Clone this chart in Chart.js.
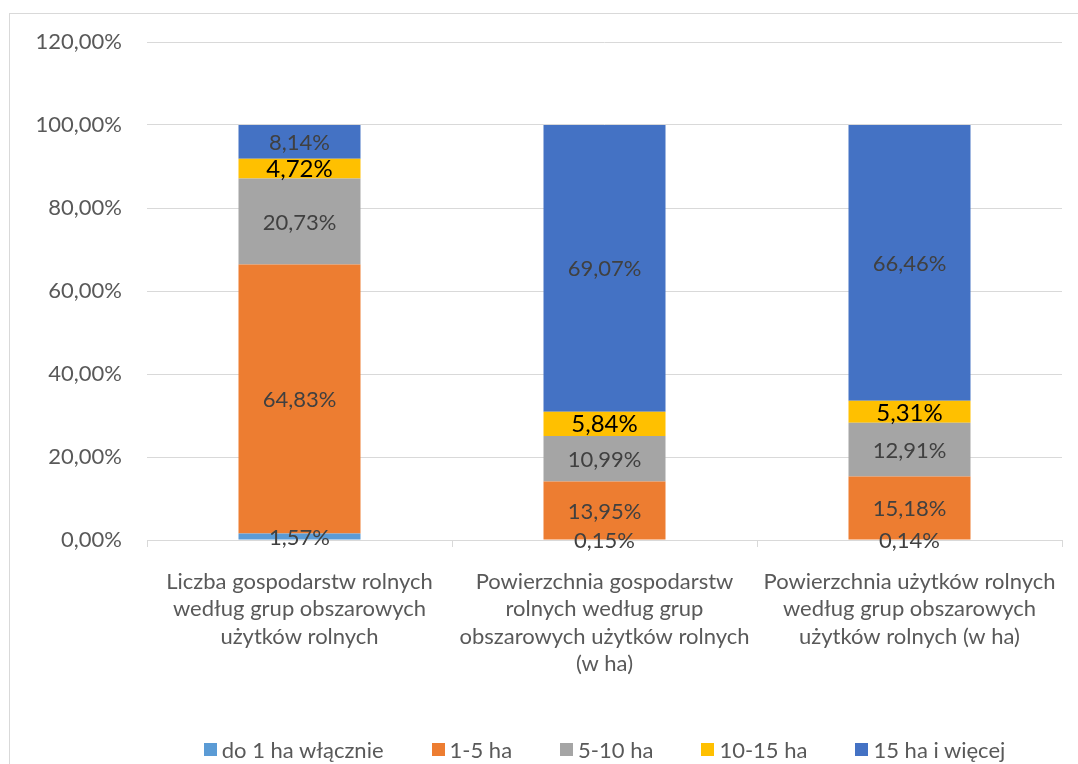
<!DOCTYPE html>
<html lang="pl">
<head>
<meta charset="utf-8">
<title>Gospodarstwa rolne według grup obszarowych</title>
<script src="https://cdn.jsdelivr.net/npm/chart.js@4/dist/chart.umd.min.js"></script>
<style>
    html, body {
        margin: 0;
        padding: 0;
        background: #fff;
        overflow: hidden;
        width: 1078px;
        height: 764px;
    }
    .chart-frame {
        position: absolute;
        left: 9px;
        top: 13px;
        width: 1200px;
        height: 800px;
        border: 1px solid #d9d9d9;
        box-sizing: border-box;
    }
    .chart-wrap {
        position: absolute;
        left: 0;
        top: 0;
        width: 1080px;
        height: 750px;
    }
    .legend {
        position: absolute;
        left: 137px;
        width: 915px;
        top: 722px;
        display: flex;
        justify-content: center;
        gap: 48px;
        font-family: Lato, sans-serif;
        font-size: 22px;
        color: #595959;
    }
    .legend-item {
        display: flex;
        align-items: center;
        gap: 5px;
        white-space: nowrap;
    }
    .legend-box {
        width: 13px;
        height: 13px;
    }
</style>
</head>
<body>
<div class="chart-frame">
    <div class="chart-wrap"><canvas id="chart"></canvas></div>
    <div class="legend" id="legend"></div>
</div>
<script>
// ── Data ──────────────────────────────────────────────────────────────────────
const categories = [
    ["Liczba gospodarstw rolnych", "według grup obszarowych", "użytków rolnych"],
    ["Powierzchnia gospodarstw", "rolnych według grup", "obszarowych użytków rolnych", "(w ha)"],
    ["Powierzchnia użytków rolnych", "według grup obszarowych", "użytków rolnych (w ha)"],
];
const seriesNames = ["do 1 ha włącznie", "1-5 ha", "5-10 ha", "10-15 ha", "15 ha i więcej"];
const upTo1 = [1.57, 0.15, 0.14];
const from1to5 = [64.83, 13.95, 15.18];
const from5to10 = [20.73, 10.99, 12.91];
const from10to15 = [4.72, 5.84, 5.31];
const from15 = [8.14, 69.07, 66.46];
const yTicks = [0, 20, 40, 60, 80, 100, 120];

const seriesValues = [upTo1, from1to5, from5to10, from10to15, from15];
const seriesColors = ["#5b9bd5", "#ed7d31", "#a5a5a5", "#ffc000", "#4472c4"];

const FONT = "Lato, sans-serif";
const fmtPct = (v) => v.toFixed(2).replace(".", ",") + "%";

// ── Segment labels ────────────────────────────────────────────────────────────
const segmentLabels = {
    id: "segmentLabels",
    afterDatasetsDraw(chart) {
        const { ctx } = chart;
        ctx.save();
        ctx.textAlign = "center";
        ctx.textBaseline = "middle";
        chart.data.datasets.forEach((ds, i) => {
            const isYellow = i === 3;
            ctx.font = `${isYellow ? 24 : 22}px ${FONT}`;
            ctx.fillStyle = isYellow ? "#000000" : "#404040";
            chart.getDatasetMeta(i).data.forEach((bar, j) => {
                const { x, y } = bar.getCenterPoint();
                ctx.fillText(fmtPct(ds.data[j]), x, y + 1);
            });
        });
        ctx.restore();
    },
};

// ── Chart ─────────────────────────────────────────────────────────────────────
new Chart(document.getElementById("chart").getContext("2d"), {
    type: "bar",
    data: {
        labels: categories,
        datasets: seriesNames.map((name, i) => ({
            label: name,
            data: seriesValues[i],
            backgroundColor: seriesColors[i],
            borderWidth: 0,
            barPercentage: 0.4,
            categoryPercentage: 1.0,
        })),
    },
    options: {
        responsive: true,
        maintainAspectRatio: false,
        animation: false,
        layout: { padding: { top: 28, right: 28, bottom: 0, left: 0 } },
        plugins: {
            legend: { display: false },
            tooltip: { enabled: false },
        },
        scales: {
            x: {
                stacked: true,
                afterFit: (scale) => { scale.height = 224; },
                grid: {
                    offset: true,
                    drawOnChartArea: false,
                    drawTicks: true,
                    tickLength: 7,
                    color: "#d9d9d9",
                },
                border: { display: true, color: "#d9d9d9", width: 1 },
                ticks: {
                    padding: 21,
                    color: "#595959",
                    font: { family: FONT, size: 22, lineHeight: 1.25 },
                    maxRotation: 0,
                    autoSkip: false,
                },
            },
            y: {
                stacked: true,
                min: 0,
                max: 120,
                afterFit: (scale) => {
                    scale.width = 137;
                    scale.paddingTop = 0;
                    scale.paddingBottom = 0;
                },
                afterBuildTicks: (scale) => {
                    scale.ticks = yTicks.map((v) => ({ value: v }));
                },
                grid: {
                    color: "#d9d9d9",
                    lineWidth: 1,
                    drawTicks: false,
                },
                border: { display: false },
                ticks: {
                    padding: 25,
                    color: "#595959",
                    font: { family: FONT, size: 22 },
                    callback: (v) => fmtPct(v),
                },
            },
        },
    },
    plugins: [segmentLabels],
});

// ── Legend ────────────────────────────────────────────────────────────────────
const legendEl = document.getElementById("legend");
seriesNames.forEach((name, i) => {
    const item = document.createElement("div");
    item.className = "legend-item";
    const box = document.createElement("span");
    box.className = "legend-box";
    box.style.background = seriesColors[i];
    const text = document.createElement("span");
    text.textContent = name;
    item.append(box, text);
    legendEl.appendChild(item);
});
</script>
</body>
</html>
